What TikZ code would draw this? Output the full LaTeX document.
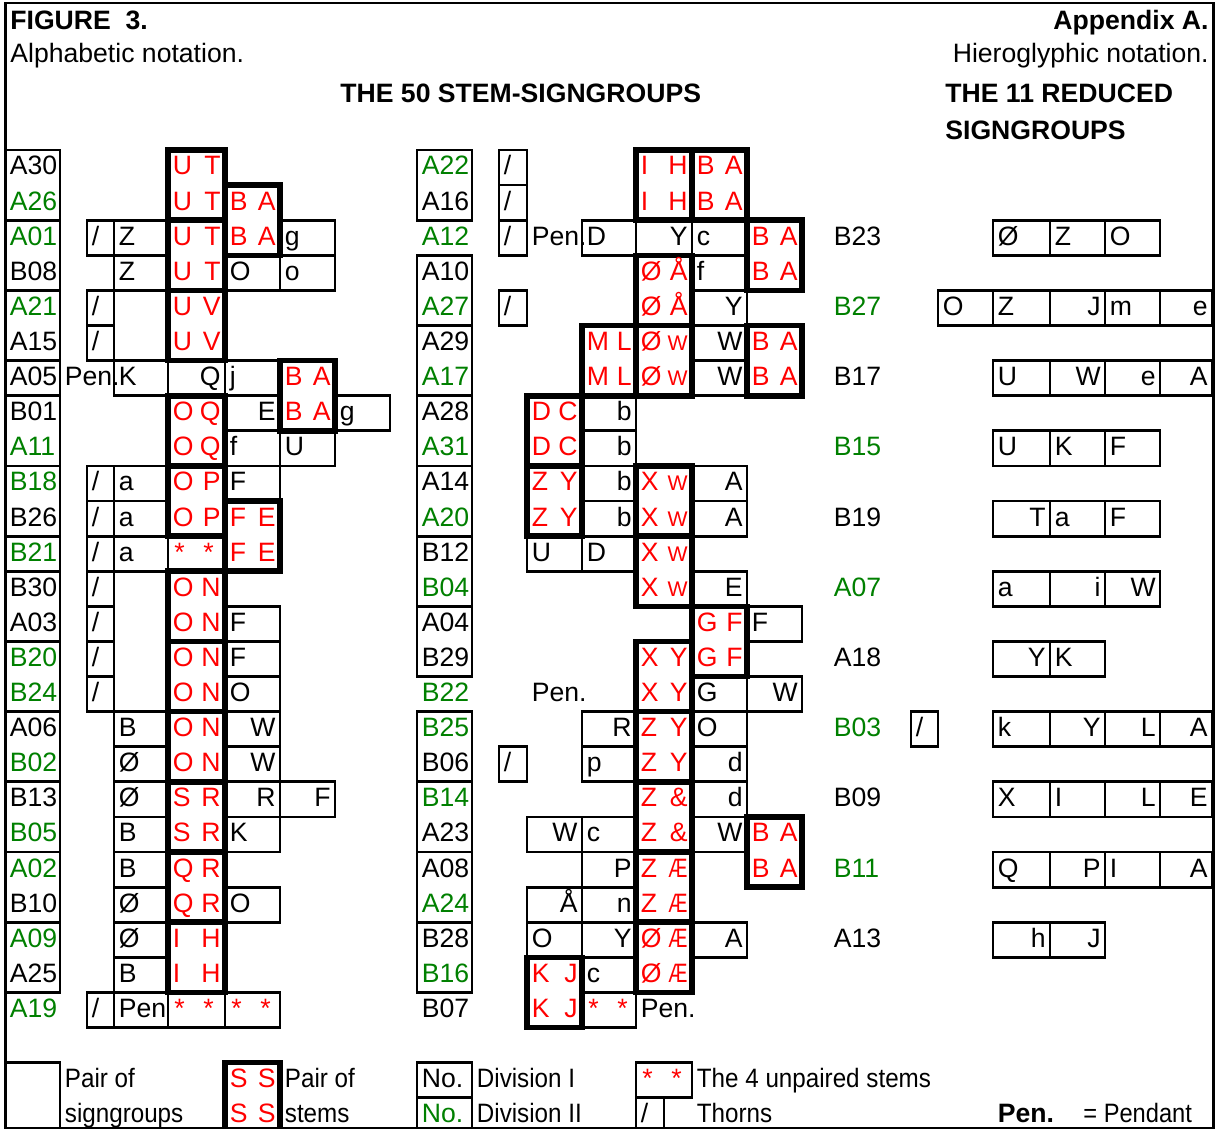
\documentclass[tikz,border=0pt]{standalone}
\usepackage{fontspec}
\setmainfont{Liberation Sans}
\usepackage{graphicx}
\definecolor{xg}{RGB}{0,128,0}
\definecolor{xr}{RGB}{255,0,0}
\newcounter{nn}
\newcommand{\myRY}[1]{(150+(#1-1)*35.1)}
\tikzset{
 thinln/.style={line width=1.4pt},
 thickln/.style={line width=2.8pt},
 txt/.style={inner sep=0pt, font=\fontsize{13.3}{16}\selectfont},
 btxt/.style={inner sep=0pt, font=\fontsize{13.3}{16}\selectfont\bfseries},
}
\newcommand{\myL}[4][black]{\stepcounter{nn}\node[txt,anchor=base west,text=#1] (t\number\value{nn}) at ({#2+4.5},{\myRY{#3}+25}) {#4};}
\newcommand{\myR}[4][black]{\stepcounter{nn}\node[txt,anchor=base east,text=#1] (t\number\value{nn}) at ({#2-4},{\myRY{#3}+25}) {#4};}
\newcommand{\myP}[5]{\myL[xr]{#1}{#3}{#4}\myR[xr]{#2}{#3}{#5}}
\newcommand{\myS}[2]{\stepcounter{nn}\node[txt,anchor=base west,text=xr] (t\number\value{nn}) at ({#1+6},{\myRY{#2}+25}) {*};\stepcounter{nn}\node[txt,anchor=base west,text=xr] (t\number\value{nn}) at ({#1+35},{\myRY{#2}+25}) {*};}
\newcommand{\myB}[4]{\draw[thinln] (#1,{\myRY{#3}}) rectangle (#2,{\myRY{#4}+35.1});}
\newcommand{\myK}[4]{\draw[thickln] (#1,{\myRY{#3}}) rectangle (#2,{\myRY{#4}+35.1});}
\newcommand{\smW}{{\fontsize{10.6}{12}\selectfont W}}
\newcommand{\smAE}{\scalebox{0.72}[1]{Æ}}
\newcommand{\nar}[1]{\scalebox{0.91}[1]{#1}}
\begin{document}
\begin{tikzpicture}[x=0.5pt,y=-0.5pt]
\useasboundingbox (0,0) rectangle (1222,1129);
\fill[white] (0,0) rectangle (1222,1129);
% ---------- left block thin boxes
\foreach \a/\b in {1/2,3/4,5/6,7/7,8/9,10/11,12/12,13/14,15/16,17/18,19/20,21/22,23/24} {\myB{5}{60}{\a}{\b}}
\foreach \r in {3,5,6,10,11,12,13,14,15,16,25} {\myB{87}{114}{\r}{\r}}
\foreach \a/\b in {3/3,4/4,5/6,7/7,10/10,11/11,12/12,13/16,17/17,18/18,19/19,20/20,21/21,22/22,23/23,24/24,25/25} {\myB{114}{168}{\a}{\b}}
\foreach \r in {7,12,25} {\myB{168}{225}{\r}{\r}}
\foreach \r in {4,7,8,9,10,14,15,16,17,18,19,20,22,25} {\myB{225}{280}{\r}{\r}}
\foreach \r in {3,4,9,19} {\myB{280}{335}{\r}{\r}}
\myB{335}{390}{8}{8}
% ---------- middle block thin boxes
\foreach \a/\b in {1/2,4/5,6/7,8/9,10/11,12/13,14/15,17/18,19/20,21/22,23/24} {\myB{417}{472}{\a}{\b}}
\foreach \r in {1,2,3,5,18} {\myB{499}{527}{\r}{\r}}
\foreach \r in {12,20,22,23} {\myB{527}{582}{\r}{\r}}
\foreach \r in {3,8,9,10,11,12,17,18,20,21,22,23,24,25} {\myB{582}{636}{\r}{\r}}
\myB{636}{692}{3}{3}
\foreach \r in {3,4,5,6,7,10,11,13,16,17,18,19,20,23} {\myB{692}{747}{\r}{\r}}
\foreach \r in {14,16} {\myB{747}{802}{\r}{\r}}
% ---------- right block boxes
\foreach \r in {3,9,11,13} {\foreach \a/\b in {993/1050,1050/1105,1105/1160} {\myB{\a}{\b}{\r}{\r}}}
\foreach \a/\b in {938/993,993/1050,1050/1105,1105/1160,1160/1212} {\myB{\a}{\b}{5}{5}}
\foreach \r in {7,17,19,21} {\foreach \a/\b in {993/1050,1050/1105,1105/1160,1160/1212} {\myB{\a}{\b}{\r}{\r}}}
\foreach \r in {15,23} {\foreach \a/\b in {993/1050,1050/1105} {\myB{\a}{\b}{\r}{\r}}}
\myB{911}{938}{17}{17}
% ---------- legend boxes
\myB{5}{60}{27}{28}
\myB{417}{472}{27}{27}
\myB{417}{472}{28}{28}
\myB{636}{692}{27}{27}
\myB{636}{664}{28}{28}
% ---------- thick stem boxes
\foreach \a/\b in {1/2,3/4,5/6,8/9,10/11,13/14,15/16,17/18,19/20,21/22,23/24} {\myK{168}{225}{\a}{\b}}
\myK{225}{280}{2}{3}
\myK{225}{280}{11}{12}
\myK{280}{335}{7}{8}
\foreach \a/\b in {8/9,10/11,24/25} {\myK{527}{582}{\a}{\b}}
\myK{582}{636}{6}{7}
\foreach \a/\b in {1/2,4/5,6/7,10/11,12/13,15/16,17/18,19/20,21/22,23/24} {\myK{636}{692}{\a}{\b}}
\myK{692}{747}{1}{2}
\myK{692}{747}{14}{15}
\foreach \a/\b in {3/4,6/7,20/21} {\myK{747}{802}{\a}{\b}}
\myK{225}{280}{27}{28}
% ---------- frame
\draw[thinln] (5.5,3) rectangle (1213.5,1128);
% ---------- headers
\node[btxt,anchor=base west] (h1) at (10,30) {FIGURE\ \ 3.};
\node[btxt,anchor=base east] (h2) at (1209,30) {Appendix A.};
\node[txt,anchor=base west] (h3) at (10,63) {Alphabetic notation.};
\node[txt,anchor=base east] (h4) at (1209,63) {Hieroglyphic notation.};
\node[btxt,anchor=base west] (h5) at (340,103) {THE 50 STEM-SIGNGROUPS};
\node[btxt,anchor=base west] (h6) at (945,103) {THE 11 REDUCED};
\node[btxt,anchor=base west] (h7) at (945,140) {SIGNGROUPS};
% ---------- left block texts
\myL{5}{1}{A30}\myP{168}{225}{1}{U}{T}
\myL[xg]{5}{2}{A26}\myP{168}{225}{2}{U}{T}\myP{225}{280}{2}{B}{A}
\myL[xg]{5}{3}{A01}\myL{87}{3}{/}\myL{114}{3}{Z}\myP{168}{225}{3}{U}{T}\myP{225}{280}{3}{B}{A}\myL{280}{3}{g}
\myL{5}{4}{B08}\myL{114}{4}{Z}\myP{168}{225}{4}{U}{T}\myL{225}{4}{O}\myL{280}{4}{o}
\myL[xg]{5}{5}{A21}\myL{87}{5}{/}\myP{168}{225}{5}{U}{V}
\myL{5}{6}{A15}\myL{87}{6}{/}\myP{168}{225}{6}{U}{V}
\myL{5}{7}{A05}\myL{60}{7}{Pen.}\myL{114}{7}{K}\myR{225}{7}{Q}\myL{225}{7}{j}\myP{280}{335}{7}{B}{A}
\myL{5}{8}{B01}\myP{168}{225}{8}{O}{Q}\myR{280}{8}{E}\myP{280}{335}{8}{B}{A}\myL{335}{8}{g}
\myL[xg]{5}{9}{A11}\myP{168}{225}{9}{O}{Q}\myL{225}{9}{f}\myL{280}{9}{U}
\myL[xg]{5}{10}{B18}\myL{87}{10}{/}\myL{114}{10}{a}\myP{168}{225}{10}{O}{P}\myL{225}{10}{F}
\myL{5}{11}{B26}\myL{87}{11}{/}\myL{114}{11}{a}\myP{168}{225}{11}{O}{P}\myP{225}{280}{11}{F}{E}
\myL[xg]{5}{12}{B21}\myL{87}{12}{/}\myL{114}{12}{a}\myS{168}{12}\myP{225}{280}{12}{F}{E}
\myL{5}{13}{B30}\myL{87}{13}{/}\myP{168}{225}{13}{O}{N}
\myL{5}{14}{A03}\myL{87}{14}{/}\myP{168}{225}{14}{O}{N}\myL{225}{14}{F}
\myL[xg]{5}{15}{B20}\myL{87}{15}{/}\myP{168}{225}{15}{O}{N}\myL{225}{15}{F}
\myL[xg]{5}{16}{B24}\myL{87}{16}{/}\myP{168}{225}{16}{O}{N}\myL{225}{16}{O}
\myL{5}{17}{A06}\myL{114}{17}{B}\myP{168}{225}{17}{O}{N}\myR{280}{17}{W}
\myL[xg]{5}{18}{B02}\myL{114}{18}{Ø}\myP{168}{225}{18}{O}{N}\myR{280}{18}{W}
\myL{5}{19}{B13}\myL{114}{19}{Ø}\myP{168}{225}{19}{S}{R}\myR{280}{19}{R}\myR{335}{19}{F}
\myL[xg]{5}{20}{B05}\myL{114}{20}{B}\myP{168}{225}{20}{S}{R}\myL{225}{20}{K}
\myL[xg]{5}{21}{A02}\myL{114}{21}{B}\myP{168}{225}{21}{Q}{R}
\myL{5}{22}{B10}\myL{114}{22}{Ø}\myP{168}{225}{22}{Q}{R}\myL{225}{22}{O}
\myL[xg]{5}{23}{A09}\myL{114}{23}{Ø}\myP{168}{225}{23}{I}{H}
\myL{5}{24}{A25}\myL{114}{24}{B}\myP{168}{225}{24}{I}{H}
\myL[xg]{5}{25}{A19}\myL{87}{25}{/}\myL{114}{25}{Pen}\myS{168}{25}\myS{225}{25}
% ---------- middle block texts
\myL[xg]{417}{1}{A22}\myL{499}{1}{/}\myP{636}{692}{1}{I}{H}\myP{692}{747}{1}{B}{A}
\myL{417}{2}{A16}\myL{499}{2}{/}\myP{636}{692}{2}{I}{H}\myP{692}{747}{2}{B}{A}
\myL[xg]{417}{3}{A12}\myL{499}{3}{/}\myL{527}{3}{Pen.}\myL{582}{3}{D}\myR{692}{3}{Y}\myL{692}{3}{c}\myP{747}{802}{3}{B}{A}
\myL{417}{4}{A10}\myP{636}{692}{4}{Ø}{Å}\myL{692}{4}{f}\myP{747}{802}{4}{B}{A}
\myL[xg]{417}{5}{A27}\myL{499}{5}{/}\myP{636}{692}{5}{Ø}{Å}\myR{747}{5}{Y}
\myL{417}{6}{A29}\myP{582}{636}{6}{M}{L}\myP{636}{692}{6}{Ø}{\smW}\myR{747}{6}{W}\myP{747}{802}{6}{B}{A}
\myL[xg]{417}{7}{A17}\myP{582}{636}{7}{M}{L}\myP{636}{692}{7}{Ø}{\smW}\myR{747}{7}{W}\myP{747}{802}{7}{B}{A}
\myL{417}{8}{A28}\myP{527}{582}{8}{D}{C}\myR{636}{8}{b}
\myL[xg]{417}{9}{A31}\myP{527}{582}{9}{D}{C}\myR{636}{9}{b}
\myL{417}{10}{A14}\myP{527}{582}{10}{Z}{Y}\myR{636}{10}{b}\myP{636}{692}{10}{X}{\smW}\myR{747}{10}{A}
\myL[xg]{417}{11}{A20}\myP{527}{582}{11}{Z}{Y}\myR{636}{11}{b}\myP{636}{692}{11}{X}{\smW}\myR{747}{11}{A}
\myL{417}{12}{B12}\myL{527}{12}{U}\myL{582}{12}{D}\myP{636}{692}{12}{X}{\smW}
\myL[xg]{417}{13}{B04}\myP{636}{692}{13}{X}{\smW}\myR{747}{13}{E}
\myL{417}{14}{A04}\myP{692}{747}{14}{G}{F}\myL{747}{14}{F}
\myL{417}{15}{B29}\myP{636}{692}{15}{X}{Y}\myP{692}{747}{15}{G}{F}
\myL[xg]{417}{16}{B22}\myL{527}{16}{Pen.}\myP{636}{692}{16}{X}{Y}\myL{692}{16}{G}\myR{802}{16}{W}
\myL[xg]{417}{17}{B25}\myR{636}{17}{R}\myP{636}{692}{17}{Z}{Y}\myL{692}{17}{O}
\myL{417}{18}{B06}\myL{499}{18}{/}\myL{582}{18}{p}\myP{636}{692}{18}{Z}{Y}\myR{747}{18}{d}
\myL[xg]{417}{19}{B14}\myP{636}{692}{19}{Z}{\&}\myR{747}{19}{d}
\myL{417}{20}{A23}\myR{582}{20}{W}\myL{582}{20}{c}\myP{636}{692}{20}{Z}{\&}\myR{747}{20}{W}\myP{747}{802}{20}{B}{A}
\myL{417}{21}{A08}\myR{636}{21}{P}\myP{636}{692}{21}{Z}{\smAE}\myP{747}{802}{21}{B}{A}
\myL[xg]{417}{22}{A24}\myR{582}{22}{Å}\myR{636}{22}{n}\myP{636}{692}{22}{Z}{\smAE}
\myL{417}{23}{B28}\myL{527}{23}{O}\myR{636}{23}{Y}\myP{636}{692}{23}{Ø}{\smAE}\myR{747}{23}{A}
\myL[xg]{417}{24}{B16}\myP{527}{582}{24}{K}{J}\myL{582}{24}{c}\myP{636}{692}{24}{Ø}{\smAE}
\myL{417}{25}{B07}\myP{527}{582}{25}{K}{J}\myS{582}{25}\myL{636}{25}{Pen.}
% ---------- right block texts
\myL{829}{3}{B23}\myL{993}{3}{Ø}\myL{1050}{3}{Z}\myL{1105}{3}{O}
\myL[xg]{829}{5}{B27}\myL{938}{5}{O}\myL{993}{5}{Z}\myR{1105}{5}{J}\myL{1105}{5}{m}\myR{1212}{5}{e}
\myL{829}{7}{B17}\myL{993}{7}{U}\myR{1105}{7}{W}\myR{1160}{7}{e}\myR{1212}{7}{A}
\myL[xg]{829}{9}{B15}\myL{993}{9}{U}\myL{1050}{9}{K}\myL{1105}{9}{F}
\myL{829}{11}{B19}\myR{1050}{11}{T}\myL{1050}{11}{a}\myL{1105}{11}{F}
\myL[xg]{829}{13}{A07}\myL{993}{13}{a}\myR{1105}{13}{i}\myR{1160}{13}{W}
\myL{829}{15}{A18}\myR{1050}{15}{Y}\myL{1050}{15}{K}
\myL[xg]{829}{17}{B03}\myL{911}{17}{/}\myL{993}{17}{k}\myR{1105}{17}{Y}\myR{1160}{17}{L}\myR{1212}{17}{A}
\myL{829}{19}{B09}\myL{993}{19}{X}\myL{1050}{19}{I}\myR{1160}{19}{L}\myR{1212}{19}{E}
\myL[xg]{829}{21}{B11}\myL{993}{21}{Q}\myR{1105}{21}{P}\myL{1105}{21}{I}\myR{1212}{21}{A}
\myL{829}{23}{A13}\myR{1050}{23}{h}\myR{1105}{23}{J}
% ---------- legend texts
\myL{60}{27}{\nar{Pair of}}\myL{60}{28}{\nar{signgroups}}
\myP{225}{280}{27}{S}{S}\myP{225}{280}{28}{S}{S}
\myL{280}{27}{\nar{Pair of}}\myL{280}{28}{\nar{stems}}
\myL{417}{27}{No.}\myL[xg]{417}{28}{No.}
\myL{472}{27}{\nar{Division I}}\myL{472}{28}{\nar{Division II}}
\myS{636}{27}\myL{692}{27}{\nar{The 4 unpaired stems}}
\myL{636}{28}{/}\myL{692}{28}{\nar{Thorns}}
\node[btxt,anchor=base west] (lp) at (997.5,{\myRY{28}+25}) {Pen.};
\node[txt,anchor=base west] (lq) at (1083,{\myRY{28}+25}) {\scalebox{0.89}[1]{= Pendant}};
\end{tikzpicture}
\end{document}
